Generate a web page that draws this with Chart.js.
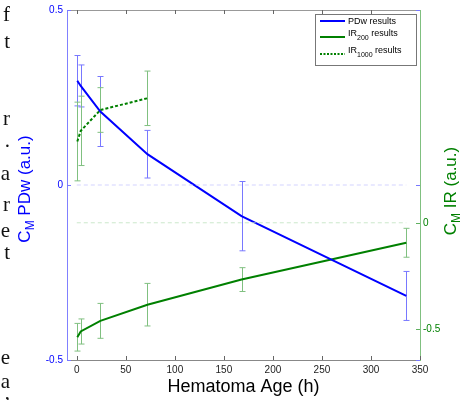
<!DOCTYPE html>
<html>
<head>
    <title>Hematoma Age</title>
    <script src="https://cdn.jsdelivr.net/npm/chart.js"></script>
    <style>
        body { margin: 0; background: #fff; }
        #wrap { position: relative; width: 474px; height: 400px; overflow: hidden; }
        .pg { position: absolute; right: 464px; font-family: 'Liberation Serif', 'DejaVu Serif', serif; font-size: 21px; line-height: 1; color: #111; }
    </style>
</head>
<body>
<div id="wrap">
    <canvas id="chart" width="474" height="400"></canvas>
</div>

<script>
    // hematoma age (h) and contrast values
    const hours = [0.5, 4, 24, 72, 168, 336];
    const pdw = [0.298, 0.283, 0.21, 0.088, -0.089, -0.317];
    const pdwErr = [0.072, 0.06, 0.1, 0.068, 0.099, 0.07];
    const ir200 = [-0.538, -0.511, -0.461, -0.385, -0.267, -0.094];
    const ir200Err = [0.065, 0.059, 0.082, 0.1, 0.056, 0.068];
    const ir1000Hours = [0.5, 4, 24, 72];
    const ir1000 = [0.382, 0.432, 0.53, 0.585];
    const ir1000Err = [0.185, 0.163, 0.105, 0.128];

    const xTicks = [0, 50, 100, 150, 200, 250, 300, 350];
    const leftTicks = [-0.5, 0, 0.5];
    const rightTicks = [-0.5, 0];

    // bits of the page text that sits left of the figure
    const pageLetters = ['f', 't', 'r', '.', 'a', 'r', 'e', 't', 'e', 'a', ','];
    const pageLines = [20, 47, 124, 146, 179, 210, 236, 258, 363, 387, 398];

    const wrap = document.getElementById('wrap');
    pageLetters.forEach((ch, i) => {
        const d = document.createElement('div');
        d.className = 'pg';
        d.textContent = ch;
        d.style.top = (pageLines[i] - 16) + 'px';
        wrap.appendChild(d);
    });

    const BLUE = '#0000ff';
    const GREEN = '#008000';
    const FONT = "'Liberation Sans', Arial, sans-serif";

    const pts = (xs, ys) => xs.map((x, i) => ({ x: x, y: ys[i] }));
    const lastHour = hours[hours.length - 1];

    const errorBars = {
        id: 'errorBars',
        beforeDatasetsDraw(chart) {
            const ctx = chart.ctx;
            const xs = chart.scales.x;
            const sets = [
                [hours, pdw, pdwErr, chart.scales.y, '#7878ff'],
                [hours, ir200, ir200Err, chart.scales.y1, '#80c080'],
                [ir1000Hours, ir1000, ir1000Err, chart.scales.y1, '#80c080']
            ];
            ctx.save();
            ctx.lineWidth = 1;
            sets.forEach(([hx, vals, errs, ys, col]) => {
                ctx.strokeStyle = col;
                hx.forEach((h, i) => {
                    const px = Math.round(xs.getPixelForValue(h)) + 0.5;
                    const top = ys.getPixelForValue(vals[i] + errs[i]);
                    const bot = ys.getPixelForValue(vals[i] - errs[i]);
                    ctx.beginPath();
                    ctx.moveTo(px, top); ctx.lineTo(px, bot);
                    ctx.moveTo(px - 3, top); ctx.lineTo(px + 3, top);
                    ctx.moveTo(px - 3, bot); ctx.lineTo(px + 3, bot);
                    ctx.stroke();
                });
            });
            ctx.restore();
        }
    };

    function drawParts(ctx, parts, x, y, rotate, color) {
        ctx.save();
        ctx.translate(x, y);
        if (rotate) ctx.rotate(-Math.PI / 2);
        ctx.fillStyle = color;
        ctx.textBaseline = 'alphabetic';
        let total = 0;
        parts.forEach(p => {
            ctx.font = p.size + 'px ' + FONT;
            p.w = ctx.measureText(p.t).width;
            total += p.w;
        });
        let cx = -total / 2;
        parts.forEach(p => {
            ctx.font = p.size + 'px ' + FONT;
            ctx.fillText(p.t, cx, p.sub ? 10 : 6);
            cx += p.w;
        });
        ctx.restore();
    }

    const frame = {
        id: 'frame',
        afterDraw(chart) {
            const ctx = chart.ctx;
            const a = chart.chartArea;
            const xs = chart.scales.x, y = chart.scales.y, y1 = chart.scales.y1;
            ctx.save();
            ctx.lineWidth = 1;
            // top edge
            ctx.strokeStyle = '#999';
            ctx.beginPath();
            ctx.moveTo(a.left, a.top + 0.5); ctx.lineTo(a.right, a.top + 0.5);
            ctx.stroke();
            // inward x ticks, bottom and top
            ctx.strokeStyle = '#666';
            ctx.beginPath();
            xTicks.forEach(v => {
                const px = Math.round(xs.getPixelForValue(v)) + 0.5;
                ctx.moveTo(px, a.bottom); ctx.lineTo(px, a.bottom - 4);
                if (v < 350) { ctx.moveTo(px, a.top); ctx.lineTo(px, a.top + 4); }
            });
            ctx.stroke();
            // left ticks
            ctx.strokeStyle = '#7878ff';
            ctx.beginPath();
            leftTicks.forEach(v => {
                const py = Math.round(y.getPixelForValue(v)) + 0.5;
                ctx.moveTo(a.left, py); ctx.lineTo(a.left + 4, py);
                ctx.moveTo(a.right, py); ctx.lineTo(a.right - 4, py);
            });
            ctx.stroke();
            // right ticks
            ctx.strokeStyle = '#60b060';
            ctx.beginPath();
            rightTicks.forEach(v => {
                const py = Math.round(y1.getPixelForValue(v)) + 0.5;
                ctx.moveTo(a.right, py); ctx.lineTo(a.right - 4, py);
            });
            ctx.stroke();

            // axis titles
            drawParts(ctx, [{ t: 'C', size: 17 }, { t: 'M', size: 12, sub: true }, { t: ' PDw (a.u.)', size: 17 }],
                24, (a.top + a.bottom) / 2 + 4, true, BLUE);
            drawParts(ctx, [{ t: 'C', size: 17 }, { t: 'M', size: 12, sub: true }, { t: ' IR (a.u.)', size: 17 }],
                450, (a.top + a.bottom) / 2 + 6, true, GREEN);
            drawParts(ctx, [{ t: 'Hematoma Age (h)', size: 18 }], (a.left + a.right) / 2, 386, false, '#000');

            // legend
            const lx = 315, ly = 14, lw = 101, lh = 51;
            ctx.fillStyle = '#fff';
            ctx.fillRect(lx, ly, lw, lh);
            ctx.strokeStyle = '#777';
            ctx.strokeRect(lx + 0.5, ly + 0.5, lw, lh);
            const rows = [
                { col: BLUE, dash: [], ly: 21, parts: [{ t: 'PDw results', size: 9 }] },
                { col: GREEN, dash: [], ly: 37, parts: [{ t: 'IR', size: 9 }, { t: '200', size: 7, sub: true }, { t: ' results', size: 9 }] },
                { col: GREEN, dash: [2, 1.5], ly: 54, parts: [{ t: 'IR', size: 9 }, { t: '1000', size: 7, sub: true }, { t: ' results', size: 9 }] }
            ];
            rows.forEach((r, i) => {
                ctx.strokeStyle = r.col;
                ctx.lineWidth = 2;
                ctx.setLineDash(r.dash);
                ctx.beginPath();
                ctx.moveTo(320, r.ly); ctx.lineTo(345, r.ly);
                ctx.stroke();
                ctx.setLineDash([]);
                ctx.fillStyle = '#000';
                let cx = 348;
                const base = i === 0 ? 24 : r.ly - 1;
                r.parts.forEach(p => {
                    ctx.font = p.size + 'px ' + FONT;
                    ctx.fillText(p.t, cx, p.sub ? base + 4 : base);
                    cx += ctx.measureText(p.t).width;
                });
            });
            ctx.restore();
        }
    };

    new Chart(document.getElementById('chart'), {
        type: 'scatter',
        data: {
            datasets: [
                {
                    label: 'PDw zero',
                    data: pts([0, lastHour], [0, 0]),
                    yAxisID: 'y',
                    showLine: true,
                    borderColor: 'rgba(200,200,255,0.8)',
                    borderWidth: 1,
                    borderDash: [4, 3],
                    pointRadius: 0
                },
                {
                    label: 'IR zero',
                    data: pts([0, lastHour], [0, 0]),
                    yAxisID: 'y1',
                    showLine: true,
                    borderColor: 'rgba(190,225,190,0.8)',
                    borderWidth: 1,
                    borderDash: [4, 3],
                    pointRadius: 0
                },
                {
                    label: 'PDw results',
                    data: pts(hours, pdw),
                    yAxisID: 'y',
                    showLine: true,
                    borderColor: BLUE,
                    borderWidth: 2,
                    pointRadius: 0
                },
                {
                    label: 'IR200 results',
                    data: pts(hours, ir200),
                    yAxisID: 'y1',
                    showLine: true,
                    borderColor: GREEN,
                    borderWidth: 2,
                    pointRadius: 0
                },
                {
                    label: 'IR1000 results',
                    data: pts(ir1000Hours, ir1000),
                    yAxisID: 'y1',
                    showLine: true,
                    borderColor: GREEN,
                    borderWidth: 2,
                    borderDash: [3, 2],
                    pointRadius: 0
                }
            ]
        },
        options: {
            responsive: false,
            animation: false,
            layout: { padding: { top: 10, left: 0, right: 0, bottom: 0 } },
            plugins: { legend: { display: false }, tooltip: { enabled: false } },
            scales: {
                x: {
                    type: 'linear',
                    min: -10,
                    max: 350,
                    afterBuildTicks: s => { s.ticks = xTicks.map(v => ({ value: v })); },
                    afterFit: s => { s.height = 40; },
                    grid: { drawOnChartArea: false, drawTicks: false },
                    border: { color: '#888' },
                    ticks: { padding: 4, color: '#222', font: { size: 10, family: FONT }, callback: v => String(v), maxRotation: 0 }
                },
                y: {
                    position: 'left',
                    min: -0.5,
                    max: 0.5,
                    afterBuildTicks: s => { s.ticks = leftTicks.map(v => ({ value: v })); },
                    afterFit: s => { s.width = 67; },
                    grid: { drawOnChartArea: false, drawTicks: false },
                    border: { color: '#8080ff' },
                    ticks: { padding: 4, color: BLUE, font: { size: 10, family: FONT }, callback: v => String(v) }
                },
                y1: {
                    position: 'right',
                    min: -0.645,
                    max: 1.0,
                    afterBuildTicks: s => { s.ticks = rightTicks.map(v => ({ value: v })); },
                    afterFit: s => { s.width = 54; },
                    grid: { drawOnChartArea: false, drawTicks: false },
                    border: { color: '#80c080' },
                    ticks: { padding: 3, color: GREEN, font: { size: 10, family: FONT }, callback: v => String(v) }
                }
            }
        },
        plugins: [errorBars, frame]
    });
</script>
</body>
</html>
